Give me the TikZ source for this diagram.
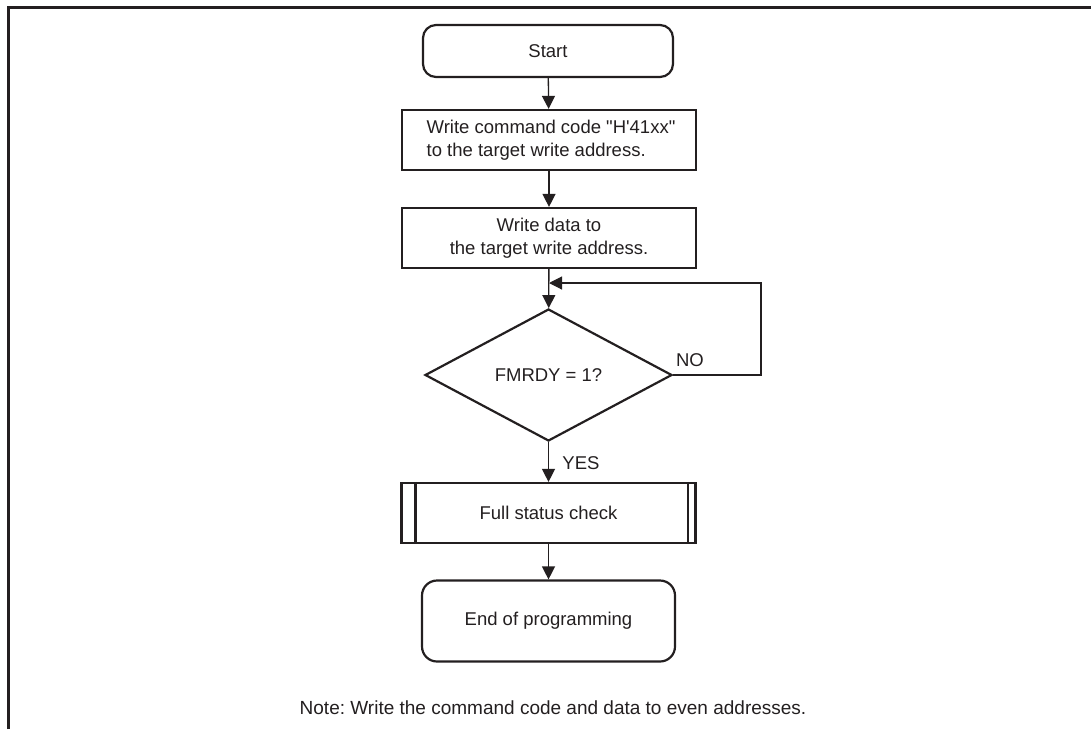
\documentclass[tikz,border=0pt]{standalone}
\usepackage{fontspec}
\setmainfont{Liberation Sans}
\usetikzlibrary{arrows.meta,shapes.geometric}
\definecolor{ink}{HTML}{231F20}
\frenchspacing

\begin{document}
\begin{tikzpicture}[
  x=0.5pt, y=-0.5pt,
  >={Triangle[width=6.5pt,length=6.5pt]},
  every node/.style={font=\fontsize{9.25}{11.6}\selectfont, text=ink},
  term/.style={draw=ink, line width=1.1pt, rounded corners=6.5pt, minimum width=125pt, minimum height=26pt, align=center},
  proc/.style={draw=ink, line width=1.1pt, minimum width=147pt, minimum height=30pt, inner sep=0pt},
  cond/.style={draw=ink, line width=1.1pt, diamond, minimum width=123.5pt, minimum height=66pt, inner sep=0pt},
  arr/.style={->, line width=0.65pt, color=ink},
]
\useasboundingbox (0,0) rectangle (1091,729);

% frame
\draw[line width=1.5pt, ink] (8,729) -- (8,7) -- (1091,7);

\node[term] (start) at (548,51) {Start};
\node[proc, align=left] (wrcmd) at (549,140) {\hspace*{2pt}Write command code \textquotedbl H\textquotesingle 41xx\textquotedbl\\\hspace*{2pt}to the target write address.};
\node[proc, align=center] (wrdata) at (549,238) {Write data to\\the target write address.};
\node[cond] (ready) at (548.5,375) {FMRDY = 1?};
\node[proc] (fsc) at (548.5,513) {Full status check};
\node[term, minimum width=126.5pt, minimum height=40.5pt, rounded corners=7.5pt] (finish) at (548.5,621) {End of programming};

\draw[line width=1.1pt, ink] ([xshift=7.5pt]fsc.north west) -- ([xshift=7.5pt]fsc.south west);
\draw[line width=1.1pt, ink] ([xshift=-4.5pt]fsc.north east) -- ([xshift=-4.5pt]fsc.south east);

\node (lno) at (690,360) {NO};
\node (lyes) at (581,463) {YES};
\node[font=\fontsize{9.5}{11.6}\selectfont] (note) at (553,708) {Note: Write the command code and data to even addresses.};

\coordinate (loopR) at (761,283);
\coordinate (loopIn) at (549,283);

\draw[arr] (start) -- (wrcmd);
\draw[arr] (wrcmd) -- (wrdata);
\draw[arr] (wrdata) -- (ready);
\draw[arr] (ready) -- (fsc);
\draw[arr] (fsc) -- (finish);
\draw[arr, line width=0.55pt] (ready.east) -| (loopR) -- (loopIn);

\end{tikzpicture}
\end{document}
